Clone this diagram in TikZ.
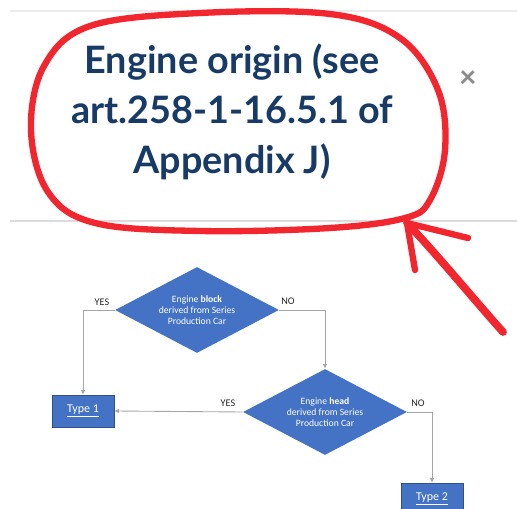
\documentclass[tikz,border=0pt]{standalone}
\usepackage{fontspec}
\setmainfont{Carlito}
\newfontfamily\titlefont{Lato}
\usetikzlibrary{arrows.meta,positioning,shapes.geometric}
\definecolor{navy}{HTML}{173B66}
\definecolor{office}{HTML}{4472C4}
\definecolor{pen}{HTML}{F2262E}
\definecolor{wire}{HTML}{A6A6A6}
\begin{document}
\begin{tikzpicture}[
x=0.02cm, y=-0.02cm,
decision/.style={diamond, fill=office, text=white, aspect=1.9, minimum width=3.28cm, minimum height=1.72cm, inner sep=0pt, align=center, font=\fontsize{5.5}{6.3}\selectfont},
typebox/.style={rectangle, fill=office, draw=office!70!black, line width=0.3pt, text=white, minimum width=1.24cm, minimum height=0.64cm, font=\fontsize{6.8}{8}\selectfont},
lbl/.style={font=\fontsize{5.8}{7}\selectfont, text=black!85},
arr/.style={-{Latex[length=0.9mm,width=0.9mm]}, draw=wire, line width=0.5pt},
marker/.style={draw=pen, line width=3.6pt, line cap=round, line join=round}
]
\clip (0,0) rectangle (517,509);
\fill[white] (0,0) rectangle (517,509);
% screen rules
\draw[black!8, line width=0.6pt] (10,11) -- (517,11);
\draw[black!14, line width=0.8pt] (10,221) -- (517,221);
% heading
\node[font=\titlefont\bfseries\fontsize{21.5}{28.5}\selectfont, text=navy, align=center] (title) at (232,112) {Engine origin (see\\art.258-1-16.5.1 of\\Appendix J)};
\node[font=\bfseries\fontsize{18}{18}\selectfont, text=black!45] (close) at (468,79) {×};
% pen marks
\draw[marker] plot[smooth cycle, tension=0.6] coordinates {(200,13) (330,14) (400,38) (438,90) (445,150) (430,200) (405,218) (330,228) (200,231) (95,223) (48,192) (31,130) (44,66) (90,26)};
\coordinate (tip) at (407,223);
\draw[marker, line width=4.4pt] (503,332) .. controls (470,295) and (440,258) .. (tip);
\draw[marker] (415,270) -- (tip) -- (468,238);
% flowchart
\node[decision] (block) at (197,310) {Engine \textbf{block}\\derived from Series\\Production Car};
\node[decision] (head) at (325,412) {Engine \textbf{head}\\derived from Series\\Production Car};
\node[typebox] (type1) at (83,411) {\underline{Type 1}};
\node[typebox] (type2) at (432,499) {\underline{Type 2}};
\node[lbl] (yes1) at (102,302) {YES};
\node[lbl] (no1) at (288,301) {NO};
\node[lbl] (yes2) at (228,403) {YES};
\node[lbl] (no2) at (418,403) {NO};
\draw[arr] (block.west) -| (type1.north);
\draw[arr] (block.east) -| (head.north);
\draw[arr] (head.west) -- (type1.east);
\draw[arr] (head.east) -| (type2.north);
\end{tikzpicture}
\end{document}
